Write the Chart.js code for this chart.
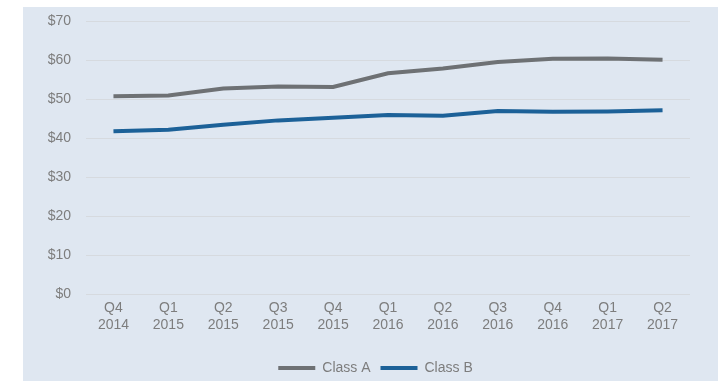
<!DOCTYPE html>
<html>
<head>
<meta charset="utf-8">
<script src="https://cdn.jsdelivr.net/npm/chart.js@4/dist/chart.umd.min.js"></script>
<style>
  html, body { margin: 0; padding: 0; background: #ffffff; }
  #panel {
    position: absolute;
    left: 23px; top: 7px;
    width: 695px; height: 374px;
    background: #dfe7f1;
  }
</style>
</head>
<body>
<div id="panel"><canvas id="chart" width="695" height="374"></canvas></div>
<script>
const quarters = [
  ['Q4', '2014'], ['Q1', '2015'], ['Q2', '2015'], ['Q3', '2015'], ['Q4', '2015'],
  ['Q1', '2016'], ['Q2', '2016'], ['Q3', '2016'], ['Q4', '2016'], ['Q1', '2017'], ['Q2', '2017']
];
const classA = [50.8, 51.0, 52.8, 53.3, 53.2, 56.7, 57.9, 59.6, 60.4, 60.5, 60.2];
const classB = [41.8, 42.2, 43.5, 44.6, 45.3, 46.0, 45.8, 47.0, 46.8, 46.9, 47.2];
const yTicks = [0, 10, 20, 30, 40, 50, 60, 70];

const textColor = '#7d7d7d';
const fontFamily = '"Liberation Sans", Arial, sans-serif';

new Chart(document.getElementById('chart'), {
    type: 'line',
    data: {
        labels: quarters,
        datasets: [
            {
                label: 'Class A',
                data: classA,
                borderColor: '#6e7174',
                backgroundColor: '#6e7174',
                borderWidth: 4,
                pointRadius: 0,
                tension: 0
            },
            {
                label: 'Class B',
                data: classB,
                borderColor: '#1c6198',
                backgroundColor: '#1c6198',
                borderWidth: 4,
                pointRadius: 0,
                tension: 0
            }
        ]
    },
    options: {
        responsive: false,
        animation: false,
        layout: {
            padding: { left: 10, right: 0, top: 14.5, bottom: -4 }
        },
        scales: {
            x: {
                offset: true,
                grid: { display: false, drawTicks: false },
                border: { display: false },
                afterFit: function (axis) {
                    axis.height = 57;
                },
                ticks: {
                    color: textColor,
                    font: { family: fontFamily, size: 14 },
                    padding: 6,
                    maxRotation: 0,
                    autoSkip: false
                }
            },
            y: {
                min: 0,
                max: 70,
                afterBuildTicks: function (axis) {
                    axis.ticks = yTicks.map(v => ({ value: v }));
                },
                afterFit: function (axis) {
                    axis.width = 53;
                    axis.paddingTop = 0;
                    axis.paddingBottom = 0;
                },
                grid: { color: '#d6dadf', lineWidth: 1, drawTicks: false },
                border: { display: false },
                ticks: {
                    color: textColor,
                    font: { family: fontFamily, size: 14 },
                    padding: 15,
                    callback: function (v) { return '$' + v; }
                }
            },
            // empty right axis, only keeps the plot clear of the right edge
            y2: {
                position: 'right',
                grid: { display: false, drawTicks: false },
                border: { display: false },
                ticks: { display: false },
                afterFit: function (axis) {
                    axis.width = 28;
                    axis.paddingTop = 0;
                    axis.paddingBottom = 0;
                }
            }
        },
        plugins: {
            legend: {
                position: 'bottom',
                labels: {
                    color: textColor,
                    font: { family: fontFamily, size: 14 },
                    usePointStyle: true,
                    pointStyle: 'line',
                    pointStyleWidth: 37,
                    boxHeight: 4,
                    padding: 10
                }
            },
            tooltip: { enabled: false }
        }
    }
});
</script>
</body>
</html>
